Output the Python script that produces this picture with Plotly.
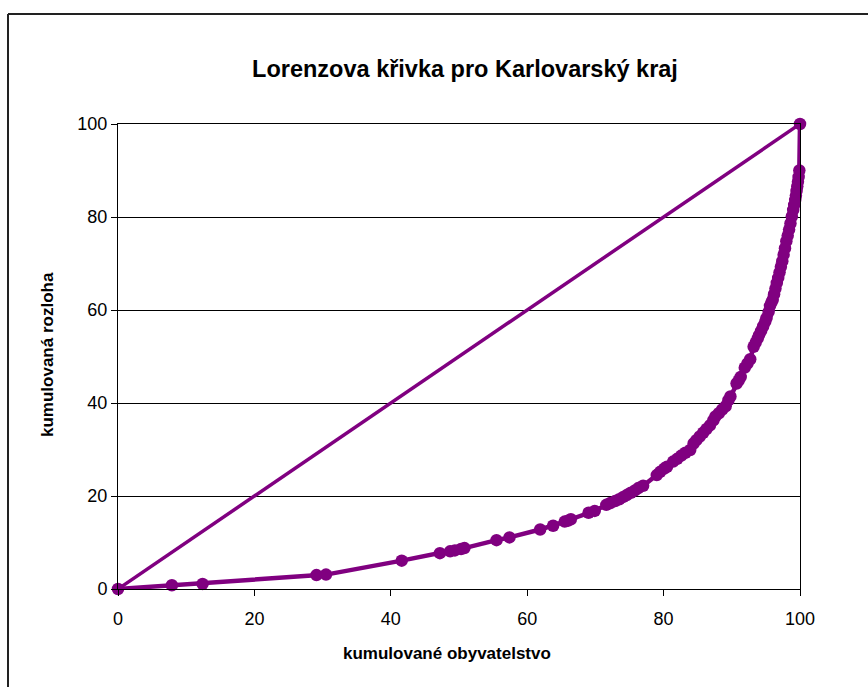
import plotly.graph_objects as go

# kumulované obyvatelstvo (%) / kumulovaná rozloha (%)
obyvatelstvo = [
    0, 7.9, 12.4, 29.1, 30.5, 41.6, 47.2, 48.7, 49.4, 50.3, 50.8, 55.5, 57.4,
    61.9, 63.8, 65.5, 66.0, 66.4, 69.0, 69.9, 71.6, 72.2, 72.9, 73.5, 74.1,
    74.6, 75.2, 75.8, 76.3, 77.0, 79.0, 79.5, 80.1, 80.5, 81.4, 82.0, 82.6,
    83.2, 83.9, 84.4, 84.8, 85.3, 85.8, 86.3, 86.8, 87.3, 87.6, 88.1, 88.6,
    89.1, 89.5, 89.8, 90.7, 91.0, 91.3, 91.9, 92.3, 92.7, 93.2, 93.5, 93.8,
    94.0, 94.3, 94.6, 94.9, 95.1, 95.4, 95.6, 95.8, 96.0, 96.2, 96.4, 96.6,
    96.8, 97.0, 97.2, 97.4, 97.6, 97.8, 98.0, 98.2, 98.4, 98.6, 98.8, 99.0,
    99.15, 99.3, 99.4, 99.5, 99.6, 99.7, 99.8, 99.9, 100,
]
rozloha = [
    0, 0.8, 1.1, 3.0, 3.1, 6.1, 7.7, 8.1, 8.3, 8.6, 8.8, 10.5, 11.1,
    12.8, 13.6, 14.5, 14.7, 15.0, 16.4, 16.8, 18.1, 18.5, 18.9, 19.3, 19.8,
    20.2, 20.7, 21.2, 21.7, 22.2, 24.5, 25.2, 25.9, 26.3, 27.4, 28.0, 28.7,
    29.3, 29.9, 31.3, 32.0, 32.8, 33.6, 34.4, 35.2, 36.3, 37.1, 37.8, 38.6,
    39.3, 40.6, 41.4, 44.2, 44.8, 45.6, 47.6, 48.5, 49.4, 52.1, 53.0, 53.9,
    54.6, 55.5, 56.5, 57.5, 58.3, 59.6, 60.9, 61.6, 62.2, 63.4, 64.6, 65.8,
    66.9, 68.1, 69.3, 70.5, 71.9, 73.3, 74.8, 76.0, 77.3, 78.6, 80.1, 81.5,
    82.6, 83.7, 84.6, 85.6, 86.6, 87.6, 88.6, 90.0, 100,
]
rovnost_x = [0, 100]
rovnost_y = [0, 100]
ticks = [0, 20, 40, 60, 80, 100]

PURPLE = "#800080"
FONT = "Liberation Sans, Arial, sans-serif"

fig = go.Figure()

fig.add_trace(go.Scatter(
    x=rovnost_x, y=rovnost_y, mode="lines",
    line=dict(color=PURPLE, width=3.5), cliponaxis=False,
))
fig.add_trace(go.Scatter(
    x=obyvatelstvo, y=rozloha, mode="lines+markers",
    line=dict(color=PURPLE, width=4.5),
    marker=dict(color=PURPLE, size=12.5),
    cliponaxis=False,
))

fig.update_layout(
    width=868, height=687,
    paper_bgcolor="white", plot_bgcolor="white",
    showlegend=False,
    margin=dict(l=118, r=68, t=124, b=98),
    font=dict(family=FONT, size=18, color="black"),
    title=dict(
        text="<b>Lorenzova křivka pro Karlovarský kraj</b>",
        x=(465 / 868), xanchor="center",
        y=1 - 69 / 687, yanchor="middle",
        font=dict(size=23.5, family=FONT, color="black"),
    ),
)

fig.update_xaxes(
    range=[0, 100], tickvals=ticks, showgrid=False, zeroline=False,
    showline=True, linecolor="black", linewidth=1, mirror=True,
    ticks="outside", ticklen=6, tickcolor="black", ticklabelstandoff=7,
)
fig.update_yaxes(
    range=[0, 100], tickvals=ticks, showgrid=True, gridcolor="black",
    gridwidth=1, zeroline=False,
    showline=True, linecolor="black", linewidth=1, mirror=True,
    ticks="outside", ticklen=6, tickcolor="black",
)

fig.add_annotation(
    text="<b>kumulované obyvatelstvo</b>", xref="paper", yref="paper",
    x=(447 - 118) / 682, y=(589 - 653) / 465, showarrow=False,
    xanchor="center", yanchor="middle",
    font=dict(size=17, family=FONT, color="black"),
)
fig.add_annotation(
    text="<b>kumulovaná rozloha</b>", xref="paper", yref="paper",
    x=(47 - 118) / 682, y=(589 - 355) / 465, showarrow=False, textangle=-90,
    xanchor="center", yanchor="middle",
    font=dict(size=17, family=FONT, color="black"),
)

# rámeček grafu (jen horní a levá hrana jsou v obrázku)
fig.add_shape(type="line", xref="paper", yref="paper",
              x0=(8 - 118) / 682, x1=(900 - 118) / 682,
              y0=(589 - 14) / 465, y1=(589 - 14) / 465,
              line=dict(color="#222222", width=2))
fig.add_shape(type="line", xref="paper", yref="paper",
              x0=(8 - 118) / 682, x1=(8 - 118) / 682,
              y0=(589 - 14) / 465, y1=(589 - 720) / 465,
              line=dict(color="#222222", width=2))

# bez okraje stránky, aby graf začínal v levém horním rohu okna
fig.write_html("out.html", config={"displayModeBar": False},
               post_script="document.body.style.margin='0';")
